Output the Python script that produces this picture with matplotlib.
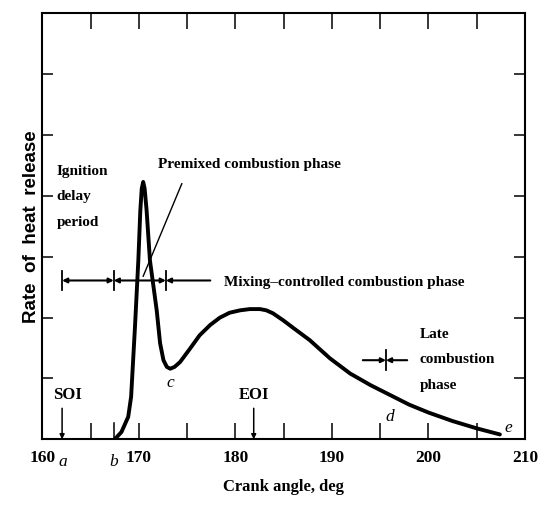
import numpy as np
import matplotlib
matplotlib.use('Agg')
import matplotlib.pyplot as plt
import matplotlib.ticker as ticker

# Heat release curve (crank angle in deg, arbitrary units)
crank_angle = [167.5, 168.2, 168.9, 169.2, 169.6, 169.95, 170.15, 170.3, 170.45,
               170.6, 170.8, 171.15, 171.85, 172.2, 172.55, 172.9, 173.25, 173.7,
               174.27, 175.3, 176.3, 177.4, 178.4, 179.4, 180.5, 181.5, 182.55,
               183.2, 183.9, 185.0, 186.0, 187.7, 189.8, 191.9, 194.0, 196.0,
               198.0, 200.0, 202.5, 205.0, 207.4]
heat_release = [0.0, 0.12, 0.37, 0.7, 1.85, 2.95, 3.75, 4.12, 4.23,
                4.12, 3.77, 2.94, 2.12, 1.58, 1.30, 1.19, 1.16, 1.19,
                1.27, 1.49, 1.71, 1.88, 2.00, 2.08, 2.12, 2.14, 2.14,
                2.12, 2.07, 1.95, 1.83, 1.63, 1.33, 1.08, 0.89, 0.73,
                0.57, 0.44, 0.30, 0.18, 0.08]

soi = 162.05            # start of injection (a)
eoi = 181.9             # end of injection
phase_marks = [162.05, 167.4, 172.8]   # a, b, end of premixed phase
mixing_end = 177.4
phase_level = 2.61
late_marks = [193.2, 195.6, 197.8]
late_level = 1.30

xtick_major = [160, 170, 180, 190, 200, 210]
point_labels = ['a', 'b', 'c', 'd', 'e']
point_x = [162.1, 167.43, 173.25, 196.0, 208.3]
point_y = [-0.38, -0.38, 0.92, 0.37, 0.18]

serif = 'Liberation Serif'

fig = plt.figure(figsize=(5.41, 5.07), dpi=100)
ax = fig.add_axes([0.0782, 0.1335, 0.8922, 0.8402])

ax.plot(crank_angle, heat_release, c='black', lw=2.8, solid_joinstyle='round',
        solid_capstyle='round')

ax.set_xlim(160, 210)
ax.set_ylim(0, 7)

# axis styling
for s in ax.spines.values():
    s.set_linewidth(1.5)
ax.xaxis.set_major_locator(ticker.FixedLocator(xtick_major))
ax.xaxis.set_minor_locator(ticker.MultipleLocator(5))
ax.yaxis.set_major_locator(ticker.FixedLocator([1, 2, 3, 4, 5, 6]))
ax.tick_params(axis='x', which='both', direction='in', top=True, bottom=True,
               length=11.5, width=1.1, pad=8)
ax.tick_params(axis='y', which='both', direction='in', left=True, right=True,
               length=8, width=1.1, labelleft=False)
ax.set_xticklabels([str(v) for v in xtick_major], fontfamily=serif, fontsize=12.5,
                   fontweight='bold')

# extra tick at b
ax.plot([phase_marks[1], phase_marks[1]], [0, 0.27], c='black', lw=1.1)

ax.set_xlabel('Crank angle, deg', fontfamily=serif, fontsize=12, fontweight='bold',
              labelpad=9)
ax.set_ylabel('Rate  of  heat  release', fontfamily='Liberation Sans',
              fontweight='bold', fontsize=13.5, labelpad=2)

# phase dimension arrows
arr = dict(arrowstyle='<|-|>', mutation_scale=7, lw=1.5, color='black',
           shrinkA=0, shrinkB=0)
for x0, x1 in zip(phase_marks[:-1], phase_marks[1:]):
    ax.annotate('', xy=(x0, phase_level), xytext=(x1, phase_level), arrowprops=arr)
ax.annotate('', xy=(phase_marks[-1], phase_level), xytext=(mixing_end, phase_level),
            arrowprops=dict(arr, arrowstyle='-|>'))
for xm in phase_marks:
    ax.plot([xm, xm], [phase_level - 0.16, phase_level + 0.16], c='black', lw=1.3)

for xs in (late_marks[0], late_marks[2]):
    ax.annotate('', xy=(late_marks[1], late_level), xytext=(xs, late_level),
                arrowprops=dict(arr, arrowstyle='-|>'))
ax.plot([late_marks[1], late_marks[1]], [late_level - 0.16, late_level + 0.16],
        c='black', lw=1.3)

# SOI / EOI arrows
for xi, lab, dx in ((soi, 'SOI', 0.6), (eoi, 'EOI', 0.0)):
    ax.annotate('', xy=(xi, 0), xytext=(xi, 0.51),
                arrowprops=dict(arrowstyle='-|>', mutation_scale=7, lw=1.1,
                                color='black', shrinkA=0, shrinkB=0))
    ax.text(xi + dx, 0.73, lab, ha='center', va='center', fontfamily=serif,
            fontsize=12, fontweight='bold')

# text annotations
tk = dict(fontfamily=serif, fontsize=11, fontweight='bold', color='black')
ax.text(161.5, 3.99, 'Ignition\ndelay\nperiod', ha='left', va='center',
        linespacing=2.25, **tk)
ax.text(172.0, 4.51, 'Premixed combustion phase', ha='left', va='center', **tk)
ax.plot([174.45, 170.45], [4.2, 2.68], c='black', lw=1.0)
ax.text(178.8, 2.58, 'Mixing\u2013controlled combustion phase', ha='left',
        va='center', **tk)
ax.text(199.1, 1.31, 'Late\ncombustion\nphase', ha='left', va='center',
        linespacing=2.25, **tk)

for lab, px, py in zip(point_labels, point_x, point_y):
    ax.text(px, py, lab, ha='center', va='center', fontfamily=serif,
            fontstyle='italic', fontsize=12.5, clip_on=False)

fig.savefig('out.png', dpi=100)
